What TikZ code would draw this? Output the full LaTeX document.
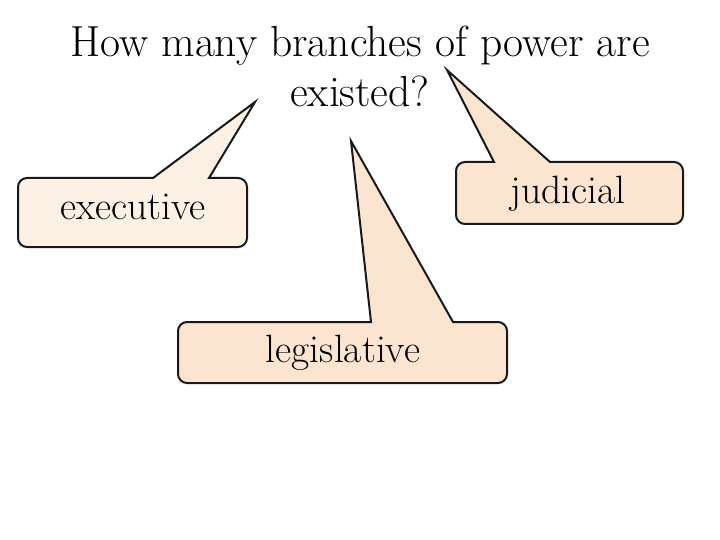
\documentclass[tikz,border=0pt]{standalone}
\usepackage{fontspec}
\definecolor{globoclaro}{HTML}{FDF1E6}
\definecolor{globo}{HTML}{FCE5D0}
\tikzset{
    globoline/.style={line width=2pt,draw=black!90,line join=miter},
    texto/.style={anchor=base,inner sep=0pt,font=\fontsize{39.5}{44}\selectfont}
}
\begin{document}
\begin{tikzpicture}[x=1pt,y=-1pt]
    \useasboundingbox (0,0) rectangle (720,540);

    % Pregunta
    \node[anchor=base,align=center,inner sep=0pt,font=\fontsize{43.5}{50}\selectfont] (pregunta) at (360,107) {How many branches of power are\\existed?};

    % Globo ejecutivo
    \coordinate (ejepunta) at (255,102);
    \draw[globoline,fill=globoclaro] (ejepunta) -- (209,178)
        [rounded corners=9pt] -- (247,178) -- (247,247) -- (18,247) -- (18,178) [sharp corners] -- (153,178) -- cycle;
    \node[texto] (ejecutivo) at (133,220) {executive};

    % Globo judicial
    \coordinate (judpunta) at (447,70);
    \draw[globoline,fill=globo] (judpunta) -- (550,162)
        [rounded corners=9pt] -- (683,162) -- (683,224) -- (456,224) -- (456,162) [sharp corners] -- (494,162) -- cycle;
    \node[texto] (judicial) at (568,204) {judicial};

    % Globo legislativo
    \coordinate (legpunta) at (351,141);
    \draw[globoline,fill=globo] (legpunta) -- (453,322)
        [rounded corners=9pt] -- (507,322) -- (507,383) -- (178,383) -- (178,322) [sharp corners] -- (371,322) -- cycle;
    \node[texto] (legislativo) at (343,362) {legislative};
\end{tikzpicture}
\end{document}
